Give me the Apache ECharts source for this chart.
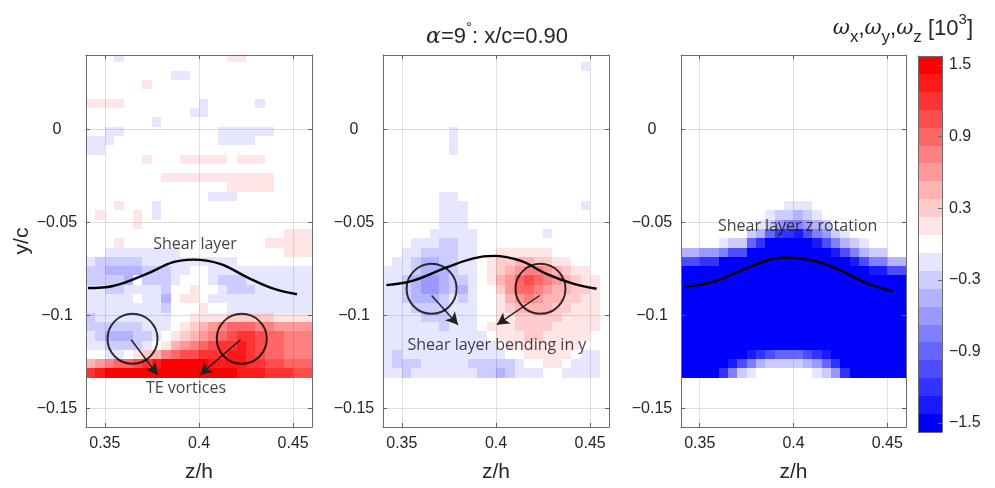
<!DOCTYPE html>
<html>
<head>
<meta charset="utf-8">
<script src="https://cdn.jsdelivr.net/npm/echarts@6/dist/echarts.min.js"></script>
<style>
    html, body { margin: 0; padding: 0; background: #fff; }
    #chart_View_Vorticity { width: 995px; height: 488px; }
</style>
</head>
<body>
<div id="chart_View_Vorticity"></div>
<script>
// cell centres of the measurement grid (z/h across, y/c down)
var xCenters = [0.3425, 0.3475, 0.3525, 0.3575, 0.3625, 0.3675, 0.3725, 0.3775, 0.3825, 0.3875, 0.3925, 0.3975,
    0.4025, 0.4075, 0.4125, 0.4175, 0.4225, 0.4275, 0.4325, 0.4375, 0.4425, 0.4475, 0.4525, 0.4575];
var yCenters = [0.039, 0.034, 0.029, 0.024, 0.019, 0.014, 0.009, 0.004, -0.001, -0.006, -0.011, -0.016,
    -0.021, -0.026, -0.031, -0.036, -0.041, -0.046, -0.051, -0.056, -0.061, -0.066, -0.071, -0.076,
    -0.081, -0.086, -0.091, -0.096, -0.101, -0.106, -0.111, -0.116, -0.121, -0.126, -0.131];
var cellW = 0.005, cellH = 0.005;
var levelStep = 0.15; // one colour band = 0.15 x10^3

// vorticity, read as colour band (-10..10), rows top -> bottom
var omegaX = [
    [0,0,0,-1,0,0,0,0,0,0,0,0,0,0,0,1,1,0,0,0,0,0,0,0],
    [0,0,0,0,0,0,0,0,0,0,0,0,0,0,0,0,0,0,0,0,0,0,0,0],
    [0,0,0,0,0,0,0,0,0,-1,-1,0,0,0,0,0,0,0,0,0,0,0,0,0],
    [0,0,0,0,0,0,1,0,0,0,0,0,0,0,0,0,0,0,0,0,0,0,0,0],
    [0,0,0,0,0,0,0,0,0,0,0,0,0,0,0,0,0,0,0,0,0,0,0,0],
    [1,1,1,1,0,0,0,0,0,0,0,0,-1,0,0,0,0,0,-1,0,0,0,0,0],
    [0,0,0,0,0,0,0,0,0,0,0,-1,-1,0,0,0,0,0,0,0,0,0,0,0],
    [0,0,0,0,0,0,0,-1,0,0,0,0,0,0,0,0,0,0,0,0,0,0,0,0],
    [0,0,-1,-1,0,0,0,0,0,0,0,0,0,0,-1,-1,-1,-1,-1,-1,0,0,0,0],
    [-1,-1,-1,0,0,0,0,0,0,0,0,0,0,0,-1,-1,-1,-1,0,0,0,0,0,0],
    [-1,-1,0,0,0,0,0,0,0,0,0,0,0,0,0,0,0,0,0,0,0,0,0,0],
    [0,0,0,0,0,0,1,0,0,0,1,1,1,1,1,0,1,1,1,0,0,0,0,0],
    [0,0,0,0,0,0,0,0,0,0,0,0,0,0,0,0,0,0,0,0,0,0,0,0],
    [0,0,0,0,0,0,0,0,1,1,1,1,1,1,1,1,1,1,1,1,0,0,0,0],
    [0,0,0,0,0,0,0,0,0,0,0,0,0,0,0,1,1,1,1,1,0,0,0,0],
    [0,0,0,0,0,0,0,0,0,0,0,0,0,-1,-1,-1,0,0,0,0,0,0,0,0],
    [0,0,0,1,0,0,0,-1,0,0,0,0,0,0,0,0,0,0,0,0,0,0,0,0],
    [0,1,0,0,0,1,0,-1,0,0,0,0,0,0,0,0,0,0,0,0,0,0,0,0],
    [0,0,0,0,0,1,0,0,0,0,0,0,0,0,0,0,0,0,0,0,0,0,0,0],
    [0,0,0,0,0,0,0,0,0,0,0,0,0,0,0,0,0,0,0,0,0,1,1,1],
    [0,0,0,1,0,0,0,0,0,0,0,0,0,0,0,0,0,0,0,1,1,1,1,1],
    [0,0,-1,-1,-1,-1,-1,-1,-1,-1,0,0,0,0,0,0,0,0,0,0,0,1,1,1],
    [-1,-2,-2,-2,-2,-2,-1,-1,-1,-1,-1,-1,-1,-1,-1,-1,0,0,0,0,0,0,0,0],
    [-2,-2,-3,-3,-3,-3,-2,-2,-2,-1,-1,0,0,-1,-1,-1,-1,-1,-1,-1,-1,-1,-1,-1],
    [-2,-2,-2,-2,-3,0,-2,-2,-2,-1,0,0,0,-1,-2,-2,-2,-1,-1,-1,-1,-1,-1,-1],
    [-1,-1,-2,-2,-1,-1,-1,-1,-2,0,0,1,0,0,-1,-2,-2,-2,-1,-1,-1,-1,-1,-1],
    [-1,-1,-1,-1,-1,0,-1,-1,-3,0,1,1,0,-1,-1,-1,-1,-1,-1,-1,-1,-1,-1,-1],
    [-1,-1,-1,-1,-1,-1,-1,-1,-2,0,0,0,1,0,0,-1,-1,-1,-1,-1,-1,-1,-1,-1],
    [-2,-1,-1,-1,-1,-1,-1,-1,-1,0,0,1,1,1,1,2,2,2,2,2,1,1,1,1],
    [-2,-2,-2,-2,-2,-2,-1,-1,-1,0,1,2,3,4,5,6,6,6,5,5,4,4,4,4],
    [-1,-2,-3,-3,-3,-2,-2,-1,0,1,2,3,4,5,6,7,8,8,7,6,6,5,5,5],
    [-1,-1,-2,-2,-2,-2,-1,0,1,3,4,5,6,7,8,8,9,8,7,6,6,5,5,5],
    [0,0,-1,-1,0,1,2,3,5,6,7,7,8,8,8,9,9,8,7,6,6,5,5,5],
    [3,4,5,6,6,7,8,9,10,10,10,10,10,9,9,9,9,8,8,7,7,6,6,6],
    [8,9,10,10,10,10,10,10,10,10,10,10,10,10,10,10,9,9,9,8,8,8,7,7]
];
var omegaY = [
    [0,0,0,0,0,0,0,0,0,0,0,0,0,0,0,0,0,0,0,0,0,0,0,0],
    [0,0,0,0,0,0,0,0,0,0,0,0,0,0,0,0,0,0,0,0,0,-1,0,0],
    [0,0,0,0,0,0,0,0,0,0,0,0,0,0,0,0,0,0,0,0,0,0,0,0],
    [0,0,0,0,0,0,0,0,0,0,0,0,0,0,0,0,0,0,0,0,0,0,0,0],
    [0,0,0,0,0,0,0,0,0,0,0,0,0,0,0,0,0,0,0,0,0,0,0,0],
    [0,0,0,0,0,0,0,0,0,0,0,0,0,0,0,0,0,0,0,0,0,0,0,0],
    [0,0,0,0,0,0,0,0,0,0,0,0,0,0,0,0,0,0,0,0,0,0,0,0],
    [0,0,0,0,0,0,0,0,0,0,0,0,0,0,0,0,0,0,0,0,0,0,0,0],
    [0,0,0,0,0,0,0,-1,0,0,0,0,0,0,0,0,0,0,0,0,0,0,0,0],
    [0,0,0,0,0,0,0,-1,0,0,0,0,0,0,0,0,0,0,0,0,0,0,0,0],
    [0,0,0,0,0,0,0,-1,0,0,0,0,0,0,0,0,0,0,0,0,0,0,0,0],
    [0,0,0,0,0,0,0,0,0,0,0,0,0,0,0,0,0,0,0,0,0,0,0,0],
    [0,0,0,0,0,0,0,0,0,0,0,0,0,0,0,0,0,0,0,0,0,0,0,0],
    [0,0,0,0,0,0,0,0,0,0,0,0,0,0,0,0,0,0,0,0,0,0,0,0],
    [0,0,0,0,0,0,0,0,0,0,0,0,0,0,0,0,0,0,0,0,0,0,0,0],
    [0,0,0,0,0,0,-1,-1,0,0,0,0,0,0,0,0,0,0,0,0,0,0,0,0],
    [0,0,0,0,0,0,-1,-1,-1,0,0,0,0,0,0,0,0,0,0,0,0,-1,0,0],
    [0,0,0,0,0,0,-1,-1,-1,0,0,0,0,0,0,0,0,0,0,0,0,0,0,0],
    [0,0,0,0,0,0,-1,-1,-1,0,0,0,0,0,0,0,0,0,0,0,0,0,0,0],
    [0,0,0,0,0,-1,-1,-1,-1,-1,0,0,0,0,0,0,0,-1,0,0,0,0,0,0],
    [0,0,0,-1,-1,-1,-2,-2,-1,-1,0,0,0,0,0,0,0,0,0,0,0,0,0,0],
    [0,0,-1,-1,-2,-2,-2,-2,-1,-1,0,0,1,1,1,1,1,1,0,0,0,0,0,0],
    [0,-1,-1,-2,-3,-3,-2,-2,-1,-1,0,1,2,2,3,3,2,2,1,1,0,0,0,0],
    [-1,-1,-1,-2,-3,-3,-3,-2,-1,-1,0,1,2,3,4,5,5,4,3,2,1,1,0,0],
    [-1,-1,-2,-3,-4,-4,-3,-2,-2,-1,0,1,3,4,6,7,6,5,4,3,2,1,1,0],
    [-1,-1,-2,-3,-4,-4,-3,-2,-3,-1,0,0,2,4,6,6,5,4,3,3,2,2,1,0],
    [-1,-1,-2,-3,-3,-3,-2,-1,-2,-1,0,0,1,3,4,5,4,3,3,2,2,1,1,0],
    [-1,-1,-1,-2,-2,-2,-2,-1,-1,-1,0,0,1,2,3,3,3,3,2,2,1,1,1,0],
    [-1,-1,-1,-1,-2,-2,-2,-1,-1,-1,0,0,1,1,2,2,2,2,2,1,1,1,1,0],
    [-1,-1,-1,-1,-1,-1,-2,-1,-1,-1,0,1,1,1,2,2,2,2,1,1,1,1,1,0],
    [-1,-1,-1,-1,-1,-1,-1,-1,-1,-1,-1,0,1,1,1,2,2,1,1,1,1,1,0,0],
    [-1,-1,-1,-1,-1,-1,-1,-1,-1,-1,-1,-1,0,1,1,1,1,1,1,1,1,0,0,0],
    [-1,-2,-1,-1,-1,-1,-1,-1,-1,-1,-1,-1,-1,0,0,1,1,1,1,1,0,-1,-1,0],
    [-1,-2,-2,-2,-1,-1,-1,-1,-1,-2,-2,-2,-2,-2,-1,0,0,1,1,0,-1,-1,-1,0],
    [-1,-1,-2,-1,-1,-1,-1,-1,-1,-1,-2,-2,-3,-2,-1,-1,-1,0,0,-1,-1,-1,-1,0]
];
var omegaZ = [
    [0,0,0,0,0,0,0,0,0,0,0,0,0,0,0,0,0,0,0,0,0,0,0,0],
    [0,0,0,0,0,0,0,0,0,0,0,0,0,0,0,0,0,0,0,0,0,0,0,0],
    [0,0,0,0,0,0,0,0,0,0,0,0,0,0,0,0,0,0,0,0,0,0,0,0],
    [0,0,0,0,0,0,0,0,0,0,0,0,0,0,0,0,0,0,0,0,0,0,0,0],
    [0,0,0,0,0,0,0,0,0,0,0,0,0,0,0,0,0,0,0,0,0,0,0,0],
    [0,0,0,0,0,0,0,0,0,0,0,0,0,0,0,0,0,0,0,0,0,0,0,0],
    [0,0,0,0,0,0,0,0,0,0,0,0,0,0,0,0,0,0,0,0,0,0,0,0],
    [0,0,0,0,0,0,0,0,0,0,0,0,0,0,0,0,0,0,0,0,0,0,0,0],
    [0,0,0,0,0,0,0,0,0,0,0,0,0,0,0,0,0,0,0,0,0,0,0,0],
    [0,0,0,0,0,0,0,0,0,0,0,0,0,0,0,0,0,0,0,0,0,0,0,0],
    [0,0,0,0,0,0,0,0,0,0,0,0,0,0,0,0,0,0,0,0,0,0,0,0],
    [0,0,0,0,0,0,0,0,0,0,0,0,0,0,0,0,0,0,0,0,0,0,0,0],
    [0,0,0,0,0,0,0,0,0,0,0,0,0,0,0,0,0,0,0,0,0,0,0,0],
    [0,0,0,0,0,0,0,0,0,0,0,0,0,0,0,0,0,0,0,0,0,0,0,0],
    [0,0,0,0,0,0,0,0,0,0,0,0,0,0,0,0,0,0,0,0,0,0,0,0],
    [0,0,0,0,0,0,0,0,0,0,0,0,0,0,0,0,0,0,0,0,0,0,0,0],
    [0,0,0,0,0,0,0,0,0,0,0,-1,-1,-1,0,0,0,0,0,0,0,0,0,0],
    [0,0,0,0,0,0,0,0,0,-1,-2,-2,-3,-2,-1,0,0,0,0,0,0,0,0,0],
    [0,0,0,0,0,0,0,0,-1,-2,-4,-5,-5,-4,-3,-2,0,0,0,0,0,0,0,0],
    [0,0,0,0,0,0,0,-2,-3,-6,-8,-8,-9,-7,-5,-4,-2,-1,0,0,0,0,0,0],
    [0,0,0,0,-1,-2,-2,-6,-8,-10,-10,-10,-10,-10,-9,-7,-5,-3,-2,-1,0,0,0,0],
    [-3,-3,-4,-4,-5,-7,-7,-10,-10,-10,-10,-10,-10,-10,-10,-10,-9,-7,-5,-3,-2,-2,0,0],
    [-7,-7,-8,-8,-10,-10,-10,-10,-10,-10,-10,-10,-10,-10,-10,-10,-10,-10,-9,-7,-5,-5,-3,-3],
    [-10,-10,-10,-10,-10,-10,-10,-10,-10,-10,-10,-10,-10,-10,-10,-10,-10,-10,-10,-10,-9,-9,-7,-7],
    [-10,-10,-10,-10,-10,-10,-10,-10,-10,-10,-10,-10,-10,-10,-10,-10,-10,-10,-10,-10,-10,-10,-10,-10],
    [-10,-10,-10,-10,-10,-10,-10,-10,-10,-10,-10,-10,-10,-10,-10,-10,-10,-10,-10,-10,-10,-10,-10,-10],
    [-10,-10,-10,-10,-10,-10,-10,-10,-10,-10,-10,-10,-10,-10,-10,-10,-10,-10,-10,-10,-10,-10,-10,-10],
    [-10,-10,-10,-10,-10,-10,-10,-10,-10,-10,-10,-10,-10,-10,-10,-10,-10,-10,-10,-10,-10,-10,-10,-10],
    [-10,-10,-10,-10,-10,-10,-10,-10,-10,-10,-10,-10,-10,-10,-10,-10,-10,-10,-10,-10,-10,-10,-10,-10],
    [-10,-10,-10,-10,-10,-10,-10,-10,-10,-10,-10,-10,-10,-10,-10,-10,-10,-10,-10,-10,-10,-10,-10,-10],
    [-10,-10,-10,-10,-10,-10,-10,-10,-10,-10,-10,-10,-10,-10,-10,-10,-10,-10,-10,-10,-10,-10,-10,-10],
    [-10,-10,-10,-10,-10,-10,-10,-10,-10,-10,-10,-10,-10,-10,-10,-10,-10,-10,-10,-10,-10,-10,-10,-10],
    [-10,-10,-10,-10,-10,-10,-10,-9,-8,-7,-6,-6,-6,-7,-8,-9,-10,-10,-10,-10,-10,-10,-10,-10],
    [-10,-10,-10,-10,-10,-9,-7,-5,-3,-2,-2,-2,-2,-3,-4,-6,-8,-10,-10,-10,-10,-10,-10,-10],
    [-10,-10,-10,-10,-8,-5,-2,-1,0,0,0,0,0,0,-1,-2,-4,-8,-10,-10,-10,-10,-10,-10]
];

// colour bar
var cbarLevels = [-10, -9, -8, -7, -6, -5, -4, -3, -2, -1, 0, 1, 2, 3, 4, 5, 6, 7, 8, 9, 10];
var cbarTicks = [-1.5, -0.9, -0.3, 0.3, 0.9, 1.5];
var bandColors = ['#0000ff', '#1a1aff', '#3333ff', '#4d4dff', '#6666ff', '#8080ff', '#9999ff', '#b3b3ff',
    '#ccccff', '#e6e6ff', '#ffffff', '#ffe6e6', '#ffcccc', '#ffb3b3', '#ff9999', '#ff8080', '#ff6666',
    '#ff4d4d', '#ff3333', '#ff1a1a', '#ff0000'];

var xTicks = [0.35, 0.4, 0.45];
var yTicks = [-0.15, -0.1, -0.05, 0];

// hand drawn annotations
var shearLine1 = [[0.3411, -0.0853], [0.3544, -0.0842], [0.3722, -0.0777], [0.3863, -0.0714], [0.3970, -0.0700],
    [0.4112, -0.0723], [0.4254, -0.0794], [0.4395, -0.0856], [0.4520, -0.0886]];
var shearLine2 = [[0.3418, -0.0837], [0.3560, -0.0813], [0.3738, -0.0742], [0.3880, -0.0693], [0.3987, -0.0680],
    [0.4129, -0.0706], [0.4271, -0.0778], [0.4413, -0.0831], [0.4534, -0.0857]];
var shearLine3 = [[0.3418, -0.0845], [0.3560, -0.0822], [0.3739, -0.0751], [0.3881, -0.0698], [0.3970, -0.0689],
    [0.4094, -0.0703], [0.4237, -0.0751], [0.4379, -0.0822], [0.4530, -0.0871]];
var circles1 = [[0.3647, -0.1126], [0.4227, -0.1126]];
var circles2 = [[0.3658, -0.0857], [0.4236, -0.0857]];
var arrows1 = [[[0.3640, -0.1131], [0.3780, -0.1320]], [[0.4220, -0.1131], [0.4005, -0.1320]]];
var arrows2 = [[[0.3658, -0.0893], [0.3798, -0.1050]], [[0.4232, -0.0893], [0.4005, -0.1050]]];
var notes1 = [['Shear layer', 0.3979, -0.0617], ['TE vortices', 0.3931, -0.1395]];
var notes2 = [['Shear layer bending in y', 0.4005, -0.1159]];
var notes3 = [['Shear layer z rotation', 0.4022, -0.0524]];

var chart_View_Vorticity = echarts.init(document.getElementById('chart_View_Vorticity'));

var minusSign = function (v) {
    return String(v).replace('-', '\u2212');
};

var fieldData = function (levels) {
    var data = [];
    for (var r = 0; r < levels.length; r++) {
        for (var c = 0; c < levels[r].length; c++) {
            if (levels[r][c] !== 0) {
                data.push([xCenters[c], yCenters[r], levels[r][c] * levelStep]);
            }
        }
    }
    return data;
};

var renderCell = function (params, api) {
    var a = api.coord([api.value(0) - cellW / 2, api.value(1) + cellH / 2]);
    var b = api.coord([api.value(0) + cellW / 2, api.value(1) - cellH / 2]);
    var x0 = Math.round(a[0]), y0 = Math.round(a[1]);
    var cs = params.coordSys;
    var shape = echarts.graphic.clipRectByRect(
        { x: x0, y: y0, width: Math.round(b[0]) - x0, height: Math.round(b[1]) - y0 },
        { x: cs.x, y: cs.y, width: cs.width, height: cs.height });
    return shape && { type: 'rect', shape: shape, style: { fill: api.visual('color') } };
};

var renderBand = function (params, api) {
    var v = api.value(1);
    var a = api.coord([0, v + levelStep / 2]);
    var b = api.coord([1, v - levelStep / 2]);
    return {
        type: 'rect',
        shape: { x: a[0], y: Math.round(a[1]), width: b[0] - a[0], height: Math.round(b[1]) - Math.round(a[1]) },
        style: { fill: api.visual('color') }
    };
};

var frameColor = '#6b6b6b';
var textColor = '#262626';

var frameAxis = function (gridIndex, position, opt) {
    var ticks = opt.ticks;
    var axis = {
        gridIndex: gridIndex,
        type: 'value',
        position: position,
        min: opt.min,
        max: opt.max,
        z: 4,
        axisLine: { show: true, onZero: false, lineStyle: { color: frameColor, width: 1 } },
        axisTick: { show: !!ticks, inside: true, length: 4, customValues: ticks, lineStyle: { color: frameColor } },
        axisLabel: { show: false },
        splitLine: { show: false }
    };
    if (opt.labels) {
        axis.axisLabel = {
            show: true, customValues: ticks, formatter: minusSign,
            color: textColor, fontSize: 16, fontFamily: 'Liberation Sans',
            margin: opt.margin, align: opt.align
        };
    }
    if (opt.name) {
        axis.name = opt.name;
        axis.nameLocation = 'middle';
        axis.nameGap = opt.nameGap;
        axis.nameTextStyle = { color: textColor, fontSize: 21, fontFamily: 'Liberation Sans' };
    }
    return axis;
};

var panelLeft = [86, 383, 681];
var panelWidth = [226, 226, 225];
var fields = [omegaX, omegaY, omegaZ];
var shearLines = [shearLine1, shearLine2, shearLine3];
var circles = [circles1, circles2, []];
var arrows = [arrows1, arrows2, []];
var notes = [notes1, notes2, notes3];

var grids = [], xAxes = [], yAxes = [], fieldSeries = [], markSeries = [];

for (var i = 0; i < 3; i++) {
    grids.push({ left: panelLeft[i], top: 55, width: panelWidth[i], height: 376 });
    xAxes.push(frameAxis(i, 'bottom', { min: 0.34, max: 0.46, ticks: xTicks, labels: true, margin: 9, name: 'z/h', nameGap: 35 }));
    xAxes.push(frameAxis(i, 'top', { min: 0.34, max: 0.46, ticks: xTicks }));
    yAxes.push(frameAxis(i, 'left', { min: -0.16, max: 0.04, ticks: yTicks, labels: true, margin: 29, align: 'center',
        name: i === 0 ? 'y/c' : null, nameGap: 50 }));
    yAxes.push(frameAxis(i, 'right', { min: -0.16, max: 0.04, ticks: yTicks }));

    fieldSeries.push({
        type: 'custom',
        xAxisIndex: 2 * i,
        yAxisIndex: 2 * i,
        renderItem: renderCell,
        encode: { x: 0, y: 1 },
        data: fieldData(fields[i]),
        silent: true,
        z: 2
    });

    // grid lines drawn over the field, like the original
    var gridLines = [];
    xTicks.forEach(function (t) { gridLines.push({ xAxis: t }); });
    yTicks.forEach(function (t) { gridLines.push({ yAxis: t }); });
    markSeries.push({
        type: 'line',
        xAxisIndex: 2 * i,
        yAxisIndex: 2 * i,
        data: [],
        silent: true,
        z: 3,
        markLine: {
            silent: true,
            symbol: 'none',
            label: { show: false },
            lineStyle: { color: 'rgba(38,38,38,0.15)', width: 1, type: 'solid' },
            data: gridLines
        }
    });

    markSeries.push({
        type: 'line',
        xAxisIndex: 2 * i,
        yAxisIndex: 2 * i,
        data: shearLines[i],
        smooth: 0.4,
        symbol: 'none',
        silent: true,
        z: 5,
        lineStyle: { color: '#000', width: 2.4 },
        markLine: {
            silent: true,
            symbol: ['none', 'arrow'],
            symbolSize: [10, 12],
            label: { show: false },
            lineStyle: { color: '#222', width: 1.5, type: 'solid' },
            data: arrows[i].map(function (a) { return [{ coord: a[0] }, { coord: a[1] }]; })
        }
    });

    markSeries.push({
        type: 'scatter',
        xAxisIndex: 2 * i,
        yAxisIndex: 2 * i,
        data: circles[i],
        symbol: 'circle',
        symbolSize: 50,
        silent: true,
        z: 5,
        itemStyle: { color: 'rgba(0,0,0,0)', borderColor: '#000', borderWidth: 2 }
    });

    markSeries.push({
        type: 'scatter',
        xAxisIndex: 2 * i,
        yAxisIndex: 2 * i,
        data: notes[i].map(function (n) { return { name: n[0], value: [n[1], n[2]] }; }),
        symbolSize: 0,
        silent: true,
        z: 6,
        label: {
            show: true, position: 'inside', formatter: '{b}',
            color: '#111', fontSize: 16, fontFamily: 'Open Sans'
        }
    });
}

// colour bar grid (index 3)
grids.push({ left: 918, top: 56, width: 24, height: 376 });
xAxes.push(frameAxis(3, 'bottom', { min: 0, max: 1 }));
xAxes.push(frameAxis(3, 'top', { min: 0, max: 1 }));
yAxes.push(frameAxis(3, 'left', { min: -1.575, max: 1.575 }));
yAxes.push(frameAxis(3, 'right', { min: -1.575, max: 1.575, ticks: cbarTicks, labels: true, margin: 7, align: 'left' }));

var cbarSeries = {
    type: 'custom',
    xAxisIndex: 6,
    yAxisIndex: 6,
    renderItem: renderBand,
    encode: { x: 0, y: 1 },
    data: cbarLevels.map(function (L) { return [0.5, L * levelStep, L * levelStep]; }),
    silent: true,
    z: 2
};

var option = {
    animation: false,
    textStyle: { fontFamily: 'Liberation Sans' },
    title: [{
        text: '{a|\u03b1}=9{s|\u00b0}: x/c=0.90',
        left: 497,
        top: 20,
        padding: 0,
        textAlign: 'center',
        textStyle: {
            color: textColor, fontSize: 22, fontWeight: 'normal', fontFamily: 'Liberation Sans', lineHeight: 34,
            rich: {
                a: { fontFamily: 'DejaVu Serif', fontStyle: 'italic', fontSize: 22, color: textColor, lineHeight: 34 },
                s: { fontSize: 15, color: textColor, verticalAlign: 'top', lineHeight: 20 }
            }
        }
    }, {
        text: '{w|\u03c9}{b|x},{w|\u03c9}{b|y},{w|\u03c9}{b|z} [10{t|3}]',
        right: 22,
        top: 12,
        padding: 0,
        textStyle: {
            color: textColor, fontSize: 22, fontWeight: 'normal', fontFamily: 'Liberation Sans', lineHeight: 34,
            rich: {
                w: { fontFamily: 'DejaVu Serif', fontStyle: 'italic', fontSize: 21, color: textColor, lineHeight: 34 },
                b: { fontSize: 17, color: textColor, verticalAlign: 'bottom', lineHeight: 18 },
                t: { fontSize: 15, color: textColor, verticalAlign: 'top', lineHeight: 18 }
            }
        }
    }],
    grid: grids,
    xAxis: xAxes,
    yAxis: yAxes,
    visualMap: {
        type: 'piecewise',
        show: false,
        dimension: 2,
        seriesIndex: [0, 1, 2, 3],
        pieces: bandColors.map(function (c, k) {
            var L = k - 10;
            return { gt: (L - 0.5) * levelStep, lte: (L + 0.5) * levelStep, color: c };
        })
    },
    series: fieldSeries.concat([cbarSeries]).concat(markSeries)
};

chart_View_Vorticity.setOption(option);
</script>
</body>
</html>
